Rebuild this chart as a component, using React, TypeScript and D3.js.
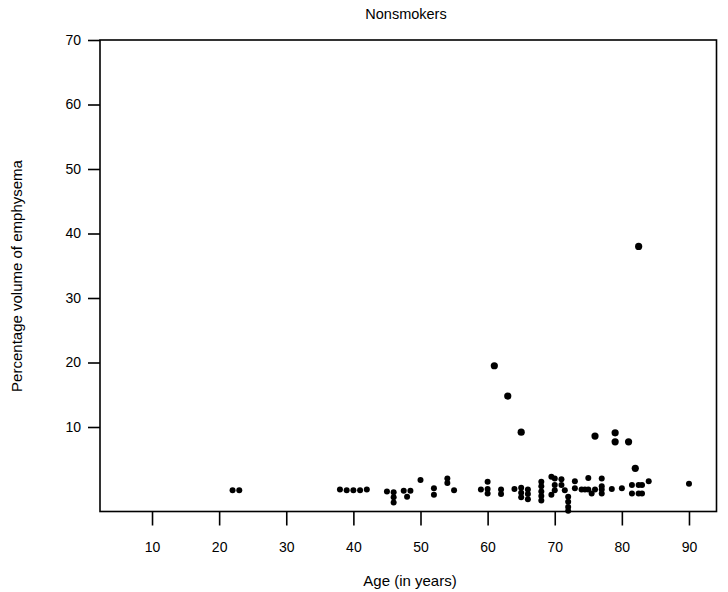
import * as d3 from "d3";
import React, { useEffect, useRef } from "react";

// ages (years) and percentage volume of emphysema
const ages = [
  22, 23,
  38, 39, 40, 41, 42,
  45, 46, 46, 46, 47.5, 48.5, 48,
  50, 52, 52, 54, 54, 55, 59,
  60, 60, 60, 61, 62, 62, 63,
  64, 65, 65, 65, 66, 66, 66, 65,
  68, 68, 68, 68, 68,
  69.5, 70, 70, 70, 69.5,
  71, 71, 71.5,
  72, 72, 72, 72,
  73, 73,
  74, 74.5, 75, 75, 75.5, 76, 76, 77, 77, 77, 77,
  78.5, 79, 79, 80, 81,
  81.5, 81.5, 82, 82.5, 82.5, 82.5, 83, 83, 84,
  90,
];
const emphysema = [
  0.2, 0.2,
  0.3, 0.2, 0.2, 0.2, 0.3,
  0.0, -0.1, -0.9, -1.7, 0.1, 0.1, -0.8,
  1.8, 0.5, -0.5, 2.0, 1.3, 0.2, 0.3,
  1.5, 0.4, -0.3, 19.5, 0.3, -0.4, 14.8,
  0.4, 0.6, -0.2, -0.9, 0.3, -0.4, -1.2, 9.2,
  1.5, 0.8, 0.0, -0.7, -1.4,
  2.3, 2.0, 1.0, 0.2, -0.5,
  1.9, 1.0, 0.2,
  -0.8, -1.6, -2.4, -3.0,
  1.6, 0.5,
  0.3, 0.3, 2.1, 0.3, -0.3, 0.3, 8.6, 2.0, 0.8, 0.3, -0.3,
  0.4, 9.1, 7.7, 0.5, 7.7,
  1.0, -0.3, 3.6, 38.0, 1.0, -0.3, 1.0, -0.3, 1.6,
  1.2,
];
const xTicks = [10, 20, 30, 40, 50, 60, 70, 80, 90];
const yTicks = [10, 20, 30, 40, 50, 60, 70];

const App: React.FC = () => {
  const svgRef = useRef<SVGSVGElement>(null);

  useEffect(() => {
    const svg = d3.select(svgRef.current);
    svg.selectAll("*").remove();

    const left = 100;
    const right = 716.5;
    const top = 40;
    const bottom = 511.5;
    const font = "'Liberation Sans', Arial, sans-serif";

    const x = d3.scaleLinear().domain([2.25, 94.1]).range([left, right]);
    const y = d3.scaleLinear().domain([-3.1, 70]).range([bottom, top]);

    // frame
    svg
      .append("rect")
      .attr("x", left)
      .attr("y", top)
      .attr("width", right - left)
      .attr("height", bottom - top)
      .attr("fill", "none")
      .attr("stroke", "#000")
      .attr("stroke-width", 1.6);

    // x axis ticks (below frame)
    const xAxis = d3
      .axisBottom(x)
      .tickValues(xTicks)
      .tickSize(14)
      .tickPadding(17)
      .tickFormat(d3.format("d"));
    const gx = svg.append("g").attr("transform", `translate(0, ${bottom})`).call(xAxis);
    gx.select(".domain").remove();
    gx.selectAll("line").attr("stroke", "#000").attr("stroke-width", 1.6);
    gx.selectAll("text").attr("font-family", font).attr("font-size", 14).attr("fill", "#000");

    // y axis ticks
    const yAxis = d3
      .axisLeft(y)
      .tickValues(yTicks)
      .tickSize(12)
      .tickPadding(7)
      .tickFormat(d3.format("d"));
    const gy = svg.append("g").attr("transform", `translate(${left}, 0)`).call(yAxis);
    gy.select(".domain").remove();
    gy.selectAll("line").attr("stroke", "#000").attr("stroke-width", 1.6);
    gy.selectAll("text").attr("font-family", font).attr("font-size", 14).attr("fill", "#000");

    // points
    svg
      .append("g")
      .selectAll("circle")
      .data(ages.map((a, i) => [a, emphysema[i]]))
      .join("circle")
      .attr("cx", (d) => x(d[0]))
      .attr("cy", (d) => y(d[1]))
      .attr("r", (d) => (d[1] > 3 ? 3.6 : 3))
      .attr("fill", "#000");

    // titles
    svg
      .append("text")
      .attr("x", 406)
      .attr("y", 19)
      .attr("text-anchor", "middle")
      .attr("font-family", font)
      .attr("font-size", 14.5)
      .text("Nonsmokers");

    svg
      .append("text")
      .attr("x", 410)
      .attr("y", 586)
      .attr("text-anchor", "middle")
      .attr("font-family", font)
      .attr("font-size", 15)
      .text("Age (in years)");

    svg
      .append("text")
      .attr("transform", `translate(22, 276) rotate(-90)`)
      .attr("text-anchor", "middle")
      .attr("font-family", font)
      .attr("font-size", 15)
      .text("Percentage volume of emphysema");
  }, []);

  return (
    <svg
      ref={svgRef}
      width={728}
      height={592}
      style={{ position: "absolute", left: 0, top: 0, background: "#fff" }}
    ></svg>
  );
};

export default App;
